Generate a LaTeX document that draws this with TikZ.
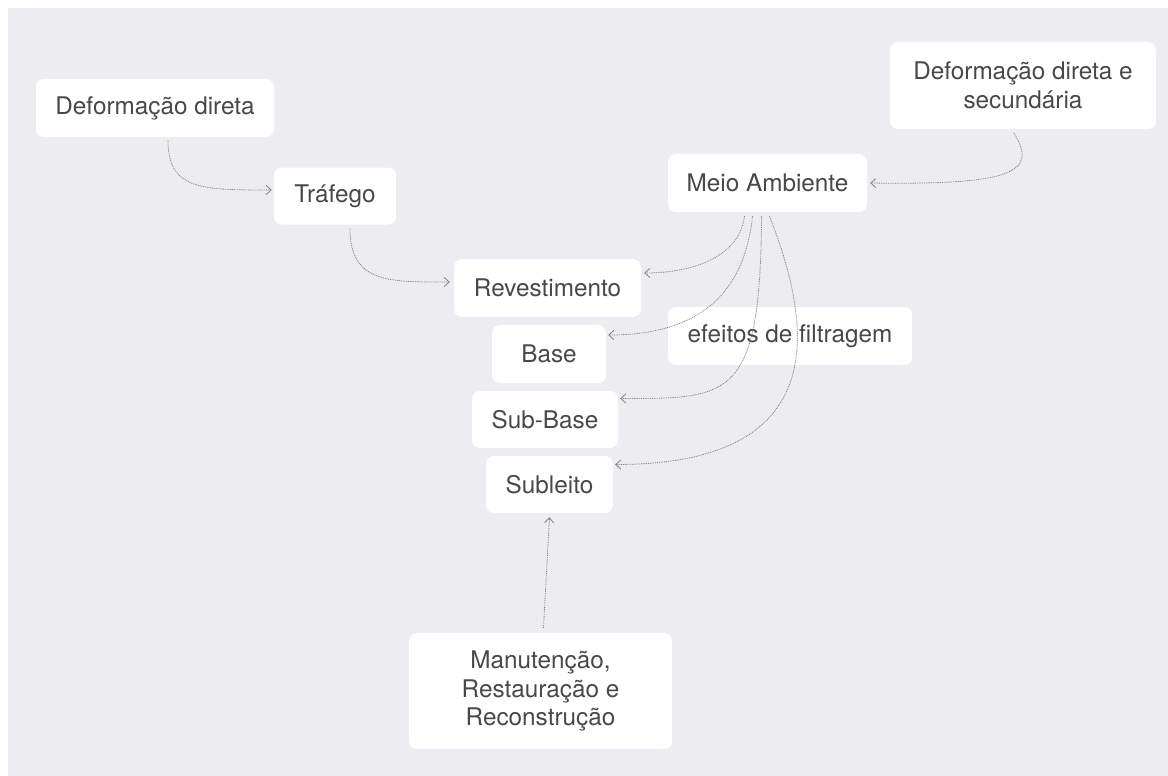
\documentclass[tikz,border=0pt]{standalone}
\usepackage{fontspec}
\setmainfont{TeX Gyre Heros}
\usetikzlibrary{arrows.meta,calc}
\definecolor{bgray}{RGB}{236,236,241}
\definecolor{txt}{RGB}{72,72,72}
\definecolor{edge}{RGB}{130,130,130}
\tikzset{
  box/.style={rectangle, rounded corners=8pt, fill=white, draw=none, text=txt,
    align=center, inner sep=0pt,
    font=\fontsize{24.3}{28.5}\selectfont},
  conn/.style={draw=edge, line width=0.8pt, dash pattern=on 0.9pt off 0.9pt,
    -{Straight Barb[length=5pt,width=9pt,line width=0.8pt]}}
}
\begin{document}
\begin{tikzpicture}[x=1pt,y=-1pt]
\fill[white] (0,0) rectangle (1168,776);
\useasboundingbox (0,0) rectangle (1168,776);
\fill[bgray] (8,8) rectangle (1168,776);

\node[box, minimum width=238pt, minimum height=58pt] (defd) at (155,108) {Deformação direta};
\node[box, minimum width=122pt, minimum height=57pt] (traf) at (335,196) {Tráfego};
\node[box, minimum width=199pt, minimum height=58pt] (meio) at (767.5,183) {Meio Ambiente};
\node[box, minimum width=266pt, minimum height=87pt] (defs) at (1023,85.5) {Deformação direta e\\secundária};
\node[box, minimum width=187pt, minimum height=58pt] (rev) at (547.5,288) {Revestimento};
\node[box, minimum width=114pt, minimum height=58pt] (base) at (549,354) {Base};
\node[box, minimum width=146pt, minimum height=57pt] (sbase) at (545,419.5) {Sub-Base};
\node[box, minimum width=127pt, minimum height=57pt] (subl) at (549.5,484.5) {Subleito};
\node[box, minimum width=244pt, minimum height=58pt] (efe) at (790,336) {efeitos de filtragem};
\node[box, minimum width=263pt, minimum height=116pt] (man) at (540.5,691) {Manutenção,\\Restauração e\\Reconstrução};

\draw[conn] ($(defd.south)+(13,3)$) .. controls +(0,50) and +(-70,0) .. ($(traf.west)+(-2,-6)$);
\draw[conn] ($(traf.south)+(15,4)$) .. controls +(0,55) and +(-60,0) .. ($(rev.west)+(-4,-6)$);
\draw[conn] ($(defs.south)+(-9,4)$) .. controls +(25,40) and +(140,2) .. ($(meio.east)+(3,0)$);
\draw[conn] ($(meio.south)+(-23,4)$) .. controls +(-5,40) and +(50,0) .. ($(rev.east)+(3,-15)$);
\draw[conn] ($(meio.south)+(-15,4)$) .. controls +(-10,95) and +(70,0) .. ($(base.east)+(2,-19)$);
\draw[conn] ($(meio.south)+(-6,4)$) .. controls +(-1,184) and +(110,0) .. ($(sbase.east)+(2,-21)$);
\draw[conn] ($(meio.south)+(2,4)$) .. controls +(45,114) and +(215,0) .. ($(subl.east)+(2,-20)$);
\draw[conn] ($(man.north)+(3,-5)$) -- ($(subl.south)+(0,4)$);
\end{tikzpicture}
\end{document}
